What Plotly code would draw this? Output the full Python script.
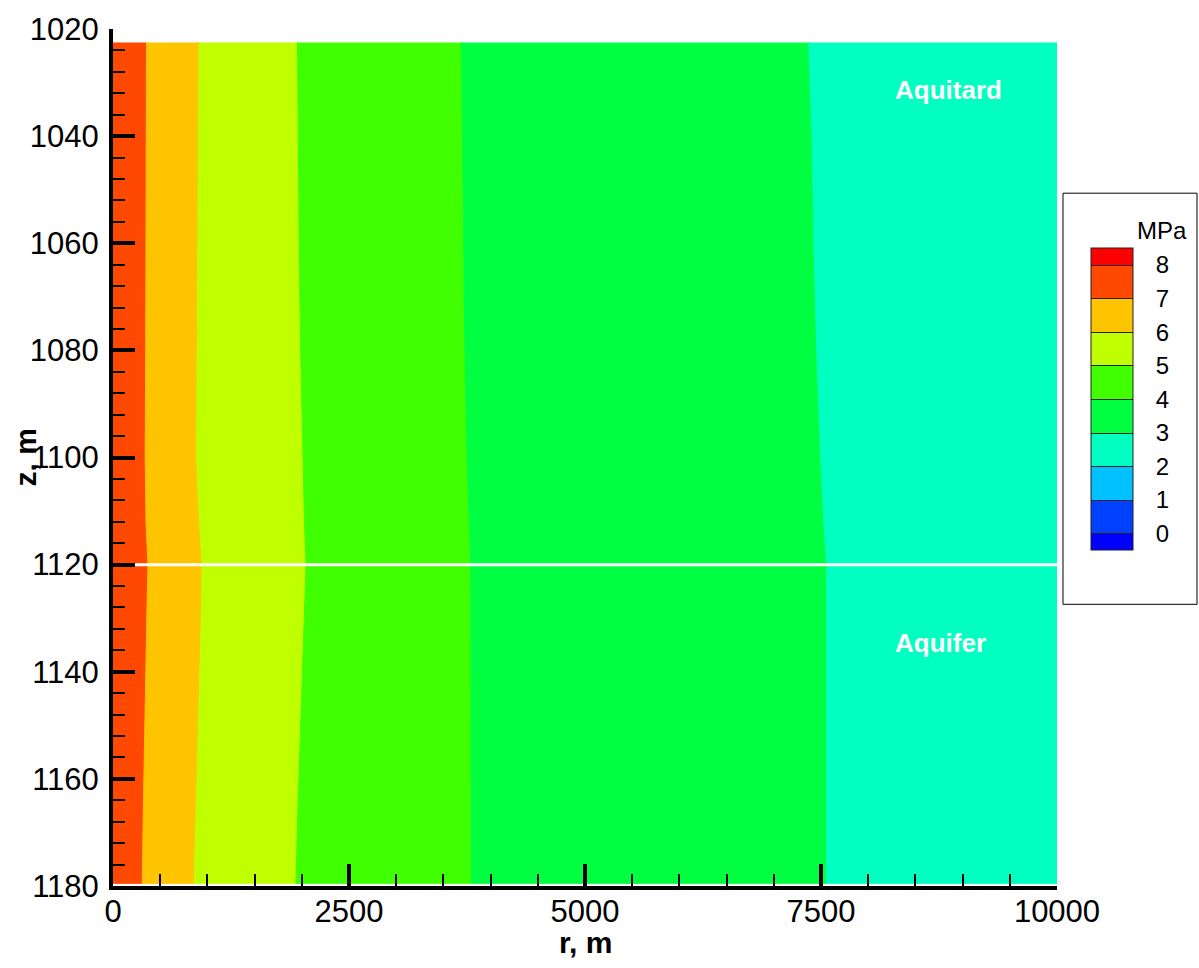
import plotly.graph_objects as go

# ---------------- data ----------------
# depths (m) at which the contour boundaries were read
z_pts = [1022.5, 1040, 1060, 1080, 1100, 1112, 1120, 1130, 1140, 1150, 1165, 1179.5]
# radial position (m) of each pressure contour at those depths
r_p7 = [355, 355, 350, 346, 341, 350, 370, 358, 350, 340, 322, 310]
r_p6 = [911, 905, 898, 893, 886, 915, 945, 935, 920, 905, 882, 861]
r_p5 = [1955, 1962, 1972, 1988, 2008, 2028, 2045, 2025, 2005, 1985, 1960, 1938]
r_p4 = [3690, 3700, 3712, 3728, 3752, 3772, 3790, 3792, 3793, 3794, 3795, 3795]
r_p3 = [7370, 7405, 7425, 7455, 7497, 7530, 7560, 7560, 7560, 7560, 7560, 7560]

r_domain = [0, 10000]
interface_z = 1120
cb_levels = [0, 1, 2, 3, 4, 5, 6, 7, 8]
layer_labels = ["Aquitard", "Aquifer"]
layer_label_r = [8263, 8263]
layer_label_z = [1031.4, 1134.6]

# ---------------- styles ----------------
band_colors = ["#0000FF", "#0040FF", "#00C0FF", "#00FFC0", "#00FF40",
               "#40FF00", "#C0FF00", "#FFC400", "#FF4800", "#FF0000"]  # <0, 0-1, ..., 7-8, >8
FONT = "Liberation Sans, Arial, sans-serif"

fig = go.Figure()

n = len(z_pts)
left_edge = [r_domain[0]] * n
right_edge = [r_domain[1]] * n
# bands from high pressure (near well) to low pressure
bands = [
    (left_edge, r_p7, band_colors[8]),
    (r_p7, r_p6, band_colors[7]),
    (r_p6, r_p5, band_colors[6]),
    (r_p5, r_p4, band_colors[5]),
    (r_p4, r_p3, band_colors[4]),
    (r_p3, right_edge, band_colors[3]),
]
for left, right, col in bands:
    fig.add_trace(go.Scatter(
        x=list(left) + list(right)[::-1],
        y=list(z_pts) + list(z_pts)[::-1],
        mode="lines", fill="toself", fillcolor=col,
        line=dict(color=col, width=1),
        hoverinfo="skip", showlegend=False,
    ))

# interface line between aquitard and aquifer
fig.add_trace(go.Scatter(
    x=r_domain, y=[interface_z, interface_z], mode="lines",
    line=dict(color="white", width=3), hoverinfo="skip", showlegend=False,
))

# colour legend (discrete colour scale, boundaries at the integer levels)
zlo, zhi = cb_levels[0] - 0.5, cb_levels[-1] + 0.5
edges = [zlo] + cb_levels + [zhi]
cscale = []
for i, col in enumerate(band_colors):
    a = (edges[i] - zlo) / (zhi - zlo)
    b = (edges[i + 1] - zlo) / (zhi - zlo)
    cscale.append([a, col])
    cscale.append([b, col])

fig.add_trace(go.Contour(
    z=[cb_levels, cb_levels], colorscale=cscale, autocontour=False,
    contours=dict(start=cb_levels[0], end=cb_levels[-1], size=1,
                  coloring="fill", showlines=True),
    line=dict(color="#202020", width=1),
    hoverinfo="skip", showscale=True,
    colorbar=dict(
        x=1.0201, xanchor="left", y=0.568, yanchor="middle",
        len=412, lenmode="pixels", thickness=42, thicknessmode="pixels",
        xpad=15, ypad=55,
        bgcolor="rgba(0,0,0,0)", borderwidth=0,
        outlinecolor="#202020", outlinewidth=1,
        tickmode="array", tickvals=cb_levels,
        ticks="outside", ticklen=18, tickwidth=1, tickcolor="rgba(0,0,0,0)",
        tickfont=dict(family=FONT, size=24, color="black"),
    ),
))

axis_common = dict(
    showgrid=False, zeroline=False, showline=True, linewidth=4, linecolor="black",
    ticks="inside", ticklen=22, tickwidth=4, tickcolor="black",
    tickfont=dict(family=FONT, size=31, color="black"),
    mirror=False,
)
fig.update_xaxes(range=r_domain, tick0=0, dtick=2500, tickformat="d",
                 minor=dict(ticks="inside", ticklen=12, tickwidth=1.5, tickcolor="black", dtick=500),
                 ticklabelstandoff=-5, **axis_common)
fig.update_yaxes(range=[1180, 1020], tick0=1020, dtick=20, tickformat="d",
                 minor=dict(ticks="inside", ticklen=12, tickwidth=1.5, tickcolor="black", dtick=4),
                 ticklabelstandoff=4, **axis_common)

annotations = []
for txt, rx, zy in zip(layer_labels, layer_label_r, layer_label_z):
    annotations.append(dict(x=rx, y=zy, xref="x", yref="y", text=txt, showarrow=False,
                            xanchor="left", yanchor="middle",
                            font=dict(family=FONT, size=26, color="white", weight="bold")))
annotations.append(dict(x=0.5, y=-0.0665, xref="paper", yref="paper", text="r, m",
                        showarrow=False, xanchor="center", yanchor="middle",
                        font=dict(family=FONT, size=30, color="black", weight="bold")))
annotations.append(dict(x=-0.0932, y=0.5, xref="paper", yref="paper", text="z, m",
                        showarrow=False, xanchor="center", yanchor="middle", textangle=-90,
                        font=dict(family=FONT, size=30, color="black", weight="bold")))
annotations.append(dict(x=1.111, y=0.765, xref="paper", yref="paper", text="MPa",
                        showarrow=False, xanchor="center", yanchor="middle",
                        font=dict(family=FONT, size=24, color="black")))

# legend frame
shapes = [dict(type="rect", xref="paper", yref="paper",
               x0=1.00636, x1=1.14831, y0=0.3287, y1=0.8084,
               line=dict(color="black", width=1), fillcolor="rgba(0,0,0,0)", layer="below")]

fig.update_layout(
    width=1199, height=968,
    margin=dict(l=113, r=142, t=25, b=82),
    paper_bgcolor="white", plot_bgcolor="white",
    annotations=annotations, shapes=shapes, showlegend=False,
)

fig.write_html("out.html", config={"displayModeBar": False},
               post_script="document.body.style.margin='0';")
